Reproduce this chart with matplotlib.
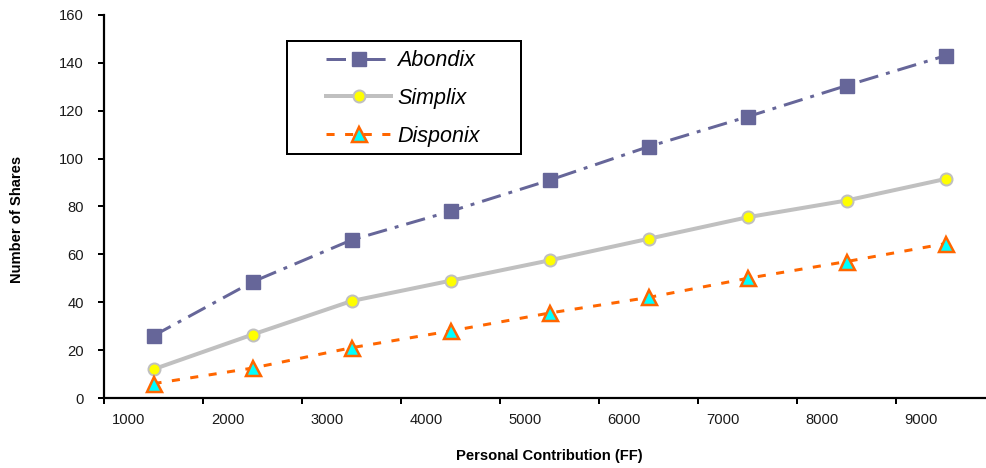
import matplotlib
matplotlib.use("Agg")
import matplotlib.pyplot as plt
from matplotlib.patches import Rectangle
import numpy as np

plt.rcParams['font.family'] = ['Liberation Sans', 'DejaVu Sans']

contrib = [1000, 2000, 3000, 4000, 5000, 6000, 7000, 8000, 9000]
abondix = [26, 48.5, 66, 78, 91, 105, 117.5, 130.5, 143]
simplix = [12, 26.5, 40.5, 49, 57.5, 66.5, 75.5, 82.5, 91.5]
disponix = [6, 12.5, 21, 28, 35.5, 42, 50, 57, 64.5]

W, H = 986, 468
fig = plt.figure(figsize=(W / 100, H / 100), dpi=100)
ax = fig.add_axes([104 / W, (H - 398) / H, 1 - 104 / W, (398 - 15) / H])

idx = np.arange(len(contrib))
px = 72 / 100  # points per pixel

ax.plot(idx, abondix, color='#666699', lw=3 * px, dashes=(6.5, 2.7, 1.3, 2.7),
        marker='s', ms=14 * px, mfc='#666699', mec='#666699', label='Abondix')
ax.plot(idx, simplix, color='#C0C0C0', lw=4 * px, ls='-',
        marker='o', ms=12 * px, mfc='#FFFF00', mec='#C0C0C0', mew=2 * px, label='Simplix')
ax.plot(idx, disponix, color='#FF6600', lw=3 * px, dashes=(2.7, 3.5),
        marker='^', ms=15 * px, mfc='#00FFFF', mec='#FF6600', mew=2.5 * px, label='Disponix')

ax.set_xlim(-0.5, -0.5 + (W - 104) / 99)
ax.set_ylim(0, 160)
ax.set_yticks(range(0, 161, 20))

# category axis: ticks between categories, labels inside the cells
ax.set_xticks(np.arange(len(contrib)) - 0.5)
ax.set_xticklabels([])
ax.set_xticks(idx - 0.25, minor=True)
ax.set_xticklabels([str(c) for c in contrib], minor=True)
ax.tick_params(axis='x', which='major', direction='out', length=6 * px, width=2 * px)
ax.tick_params(axis='x', which='minor', length=0, pad=15 * px, labelsize=10.6, labelcolor='#1a1a1a')
ax.tick_params(axis='y', direction='out', length=6 * px, width=2 * px, pad=14 * px,
               labelsize=10.6, labelcolor='#1a1a1a')

for s in ['top', 'right']:
    ax.spines[s].set_visible(False)
for s in ['left', 'bottom']:
    ax.spines[s].set_linewidth(2.2 * px)

fig.text(549 / W, 1 - 456 / H, 'Personal Contribution (FF)', ha='center', va='center',
         fontsize=10.6, fontweight='bold')
fig.text(17 / W, 1 - 219 / H, 'Number of Shares', ha='center', va='center',
         rotation=90, fontsize=10.6, fontweight='bold')

leg = ax.legend(loc='center', bbox_to_anchor=(403 / W, 1 - 98.5 / H), bbox_transform=fig.transFigure,
                frameon=False, prop={'style': 'italic', 'size': 15.5},
                handlelength=3.0, handletextpad=0.3, labelspacing=0.78, numpoints=1)
fig.patches.append(Rectangle((287 / W, 1 - 154 / H), (521 - 287) / W, (154 - 41) / H,
                             transform=fig.transFigure, fill=False, ec='black', lw=2 * px))

fig.savefig('out.png', dpi=100)
